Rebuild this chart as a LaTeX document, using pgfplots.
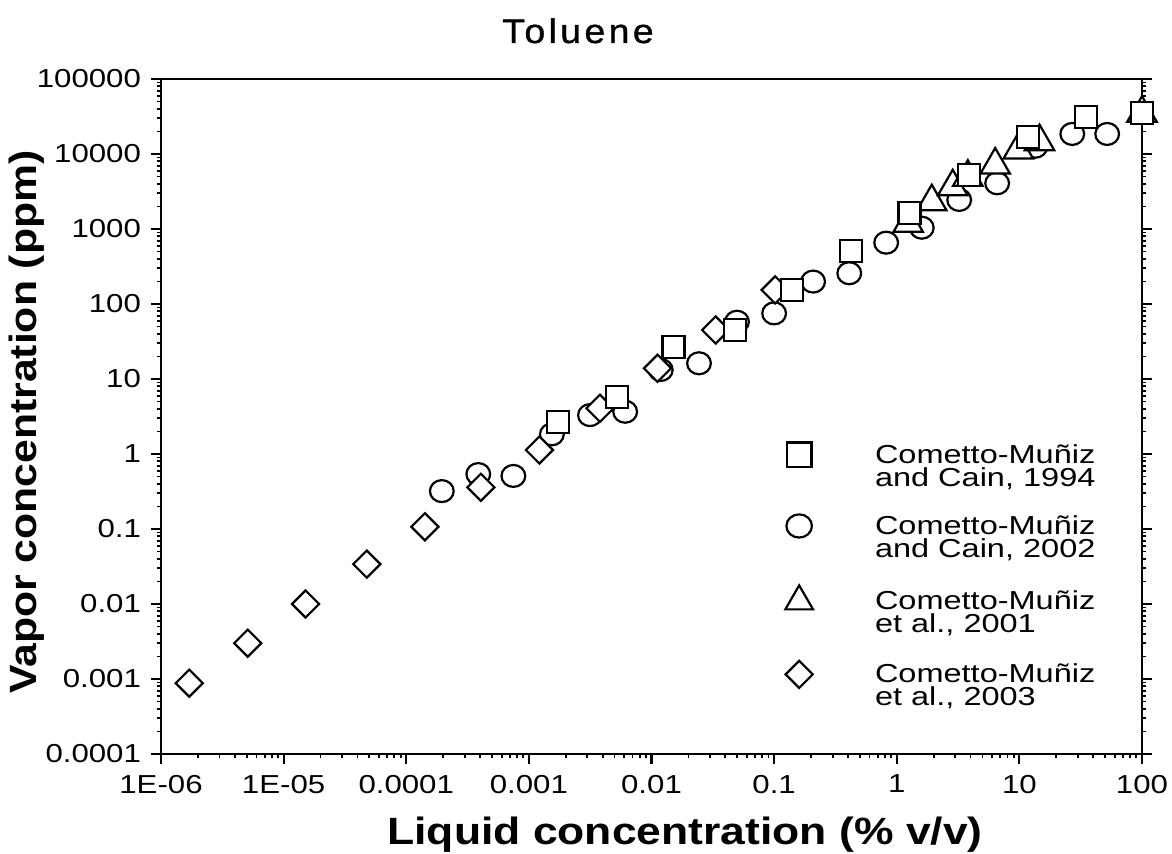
\documentclass[border=0pt]{standalone}
\usepackage{fontspec}
\setmainfont{Liberation Sans}
\newfontfamily\tickfont{Liberation Sans}[FakeStretch=1.2]
\newfontfamily\legfont{Liberation Sans}[FakeStretch=1.25]
\newfontfamily\labfont{Liberation Sans}[FakeStretch=1.17]
\newfontfamily\titfont{Liberation Sans}[FakeStretch=1.1, LetterSpace=10, FakeBold=1.2]
\usepackage{pgfplots}
\usepackage{pgfplotstable}
\pgfplotsset{compat=1.18}

% Cometto-Muniz and Cain, 1994
\pgfplotstableread{
x        y
1.74e-3  2.7
5.26e-3  5.8
0.0151   27
0.0479   45
0.14     154
0.426    514
1.27     1650
3.87     5250
11.8     16700
35       31500
100      35000
}\sqdata
% Cometto-Muniz and Cain, 2002
\pgfplotstableread{
x        y
1.95e-4  0.32
3.87e-4  0.54
7.48e-4  0.51
1.54e-3  1.83
3.15e-3  3.3
6.1e-3   3.66
0.0119   13.2
0.0244   16.2
0.0498   58
0.1      75
0.208    199
0.41     257
0.82     657
1.6      1040
3.23     2440
6.59     4070
13.5     12500
27       18500
52       18500
}\circdata
% Cometto-Muniz et al., 2001
\pgfplotstableread{
x        y
1.24     1190
1.93     2310
2.86     3660
3.8      4900
6.35     7130
9.8      11300
14.6     14600
100      35000
}\tridata
% Cometto-Muniz et al., 2003
\pgfplotstableread{
x        y
1.70e-6  8.8e-4
5.1e-6   0.003
1.51e-5  0.01
4.77e-5  0.034
1.42e-4  0.107
4.06e-4  0.36
1.22e-3  1.13
3.8e-3   4.07
0.0112   13.9
0.0334   45
0.102    154
}\diadata

\begin{document}
\begin{tikzpicture}
\begin{axis}[
  at={(0pt,0pt)}, anchor=south west,
  scale only axis, width=490.5pt, height=337.5pt,
  xmode=log, ymode=log,
  xmin=1e-6, xmax=100, ymin=1e-4, ymax=1e5,
  xtick={1e-6,1e-5,1e-4,1e-3,1e-2,1e-1,1,10,100},
  xticklabels={1E-06,1E-05,0.0001,0.001,0.01,0.1,1,10,100},
  ytick={1e-4,1e-3,1e-2,1e-1,1,10,100,1000,10000,100000},
  yticklabels={0.0001,0.001,0.01,0.1,1,10,100,1000,10000,100000},
  xtick pos=bottom,
  tick align=outside,
  major tick length=5pt, minor tick length=2.2pt,
  axis line style={line width=1.1pt},
  every tick/.style={black, line width=1.1pt},
  minor tick style={line width=0.9pt},
  tick label style={font=\tickfont\fontsize{13}{14}\selectfont},
  xticklabel style={yshift=-2pt},
  yticklabel style={xshift=-1.5pt},
  clip=false,
  legend image code/.code={\draw[#1] plot coordinates {(0pt,6pt)};},
  legend style={draw=none, fill=none, inner sep=0pt,
    at={(0.636,0.462)}, anchor=north west,
    row sep=12.5pt,
    nodes={align=left, inner sep=0pt,
      font=\legfont\fontsize{13}{11.5}\selectfont},
    /tikz/every odd column/.append style={column sep=31pt}},
  legend cell align=left,
]
% legend entries in the order they are listed
\addlegendimage{only marks, mark=square, mark size=6.2pt, line width=1.1pt}
\addlegendentry{Cometto-Muñiz\\and Cain, 1994}
\addlegendimage{only marks, mark=o, mark size=5.8pt, line width=1.1pt, mark options={xscale=1.1}}
\addlegendentry{Cometto-Muñiz\\and Cain, 2002}
\addlegendimage{only marks, mark=triangle, mark size=8pt, line width=1.1pt}
\addlegendentry{Cometto-Muñiz\\et al., 2001}
\addlegendimage{only marks, mark=square, mark size=4.8pt, line width=1.1pt, mark options={rotate=45}}
\addlegendentry{Cometto-Muñiz\\et al., 2003}

\addplot[forget plot, only marks, mark=*, mark size=5.5pt,
  mark options={draw=black, fill=white, line width=1.1pt, xscale=1.08}] table {\circdata};
\addplot[forget plot, only marks, mark=square*, mark size=4.8pt,
  mark options={draw=black, fill=white, line width=1.1pt, rotate=45}] table {\diadata};
\addplot[forget plot, only marks, mark=triangle*, mark size=8.5pt,
  mark options={draw=black, fill=white, line width=1.1pt}] table {\tridata};
\addplot[forget plot, only marks, mark=square*, mark size=5.5pt,
  mark options={draw=black, fill=white, line width=1.1pt}] table {\sqdata};
\end{axis}
% titles
\node[anchor=base, font=\titfont\fontsize{17}{20}\selectfont] at (208.5pt,355.5pt) {Toluene};
\node[anchor=base, font=\labfont\bfseries\fontsize{19}{22}\selectfont] at (262pt,-45.5pt) {Liquid concentration (\% v/v)};
\node[rotate=90, font=\labfont\bfseries\fontsize{19}{22}\selectfont, xscale=0.96] at (-67pt,166pt) {Vapor concentration (ppm)};
\pgfresetboundingbox
\useasboundingbox (-80.5pt,-50pt) rectangle (505.5pt,377pt);
\end{tikzpicture}
\end{document}
